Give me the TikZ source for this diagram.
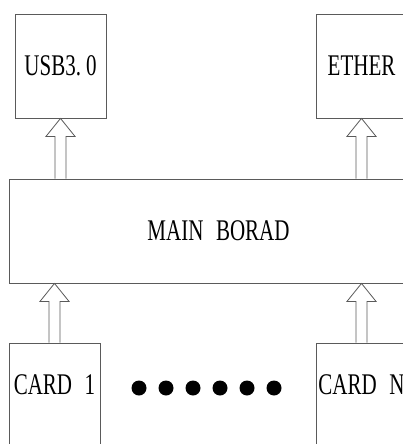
\documentclass[tikz,border=0pt]{standalone}
\usepackage{fontspec}
\newfontfamily\boardfont[FakeStretch=0.7,WordSpace=2.4]{Liberation Serif}
\usepackage{tikz}
\usetikzlibrary{
  positioning,
  calc
}

\definecolor{edgegray}{HTML}{5A5A5A}

% hollow block arrow from (#1) up to the tip (#2)
\newcommand\hollowup[2]{%
  \draw[hollow] ($(#1)+(-5.5pt,0)$) -- ($(#2)+(-5.5pt,-18pt)$)
    -- ($(#2)+(-14.5pt,-18pt)$) -- (#2) -- ($(#2)+(14.5pt,-18pt)$)
    -- ($(#2)+(5.5pt,-18pt)$) -- ($(#1)+(5.5pt,0)$);
}

\begin{document}
\begin{tikzpicture}[
  x=1pt, y=-1pt,
  font=\boardfont\fontsize{30}{30}\selectfont,
  blk/.style={draw=edgegray, line width=0.8pt, fill=white,
    minimum width=91pt, minimum height=104pt, inner sep=0pt},
  hollow/.style={draw=edgegray, line width=0.8pt, fill=white, line join=miter},
  cardtext/.style={anchor=center, yshift=-42pt}
]
\useasboundingbox (0,0) rectangle (403,444);
\clip (0,0) rectangle (403,444);

\node[blk] (usb) at (60.5,66) {USB3.\kern5pt0};
\node[blk] (ether) at (361.5,66) {ETHER};
\node[blk, minimum width=419pt] (main) at (218.5,231) {MAIN BORAD};
\node[blk, label={[cardtext]north:CARD 1}] (card1) at (54.5,395) {};
\node[blk, label={[cardtext]north:CARD N}] (cardn) at (361.5,395) {};

\coordinate (usbfoot) at (usb.south |- main.north);
\coordinate (etherfoot) at (ether.south |- main.north);
\coordinate (card1tip) at (card1.north |- main.south);
\coordinate (cardntip) at (cardn.north |- main.south);

\hollowup{usbfoot}{usb.south}
\hollowup{etherfoot}{ether.south}
\hollowup{card1.north}{card1tip}
\hollowup{cardn.north}{cardntip}

% the cards in between
\foreach \x in {139,166,...,274}
  \fill (\x,388) circle[radius=7.5pt];
\end{tikzpicture}
\end{document}
